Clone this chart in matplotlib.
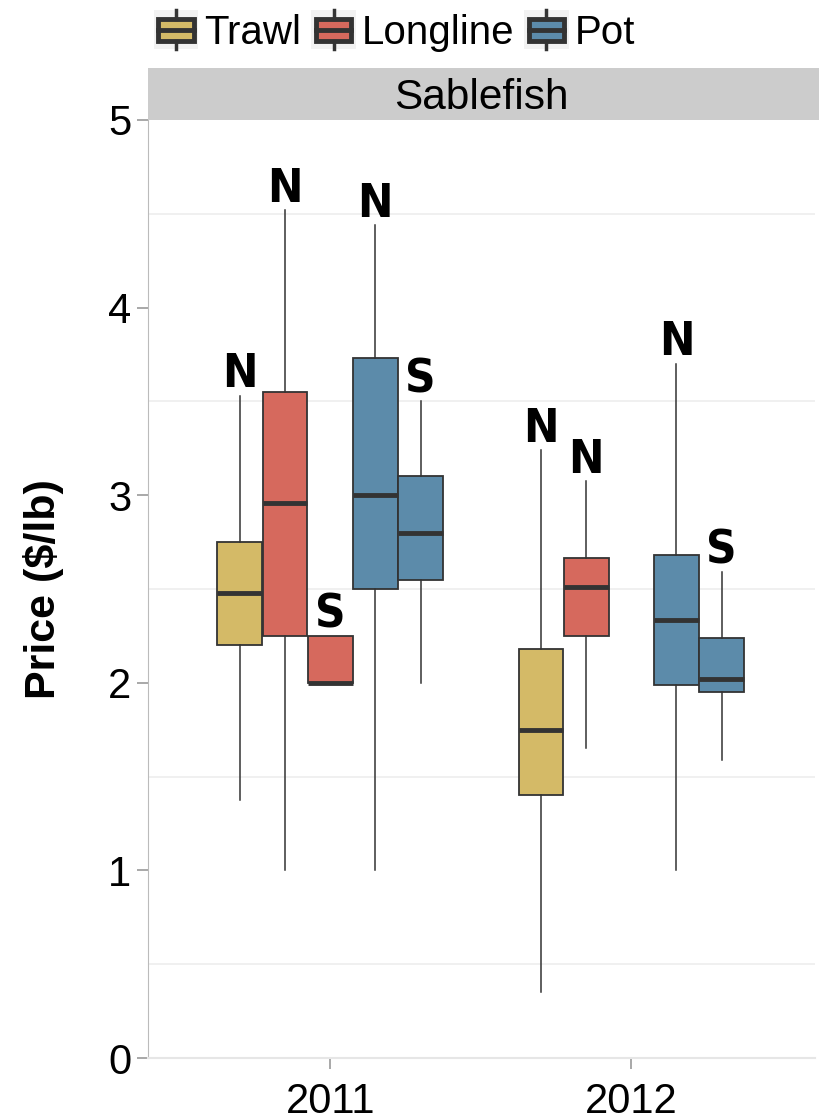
import matplotlib
matplotlib.use("Agg")
import matplotlib.pyplot as plt
from matplotlib.patches import Rectangle
from matplotlib.lines import Line2D
from matplotlib.legend_handler import HandlerBase

# Data (price in $/lb)
years = ["2011", "2012"]
gears = ["Trawl", "Longline", "Pot"]
gear_colors = {"Trawl": "#D4BA67", "Longline": "#D6695D", "Pot": "#5C8BAA"}

# one entry per box: year index, slot (-2..2), gear, region label
box_year = [0, 0, 0, 0, 0, 1, 1, 1, 1]
box_slot = [-2, -1, 0, 1, 2, -2, -1, 1, 2]
box_gear = ["Trawl", "Longline", "Longline", "Pot", "Pot",
            "Trawl", "Longline", "Pot", "Pot"]
box_label = ["N", "N", "S", "N", "S", "N", "N", "N", "S"]
whis_lo = [1.375, 1.00, 2.00, 1.00, 2.00, 0.35, 1.65, 1.00, 1.59]
q1 = [2.20, 2.25, 2.00, 2.50, 2.55, 1.40, 2.25, 1.99, 1.95]
med = [2.48, 2.96, 2.00, 3.00, 2.80, 1.75, 2.51, 2.335, 2.02]
q3 = [2.75, 3.55, 2.25, 3.73, 3.10, 2.18, 2.665, 2.68, 2.24]
whis_hi = [3.53, 4.52, 2.25, 4.44, 3.50, 3.24, 3.075, 3.70, 2.59]

box_w = 0.15

fig = plt.figure(figsize=(8.19, 11.18), dpi=100)
ax = fig.add_axes([148/819, 60/1118, 667/819, 938/1118])

for i in range(len(q1)):
    pos = box_year[i] + 1 + box_slot[i]*box_w
    st = dict(med=med[i], q1=q1[i], q3=q3[i], whislo=whis_lo[i], whishi=whis_hi[i], fliers=[])
    ax.bxp([st], positions=[pos], widths=box_w*0.99, patch_artist=True, showcaps=False,
           boxprops=dict(facecolor=gear_colors[box_gear[i]], edgecolor="#333333", linewidth=1.3),
           medianprops=dict(color="#333333", linewidth=3.5, solid_capstyle="butt"),
           whiskerprops=dict(color="#333333", linewidth=1.1), manage_ticks=False)
    ax.text(pos, whis_hi[i] + 0.045, box_label[i], ha="center", va="baseline",
            fontsize=34, fontweight="bold", fontstretch="condensed", family="DejaVu Sans")

ax.set_xlim(0.395, 2.61)
ax.set_ylim(0, 5)
ax.set_xticks([1, 2])
ax.set_xticklabels(years)
ax.set_yticks([0, 1, 2, 3, 4, 5])
ax.set_yticks([0.5, 1.5, 2.5, 3.5, 4.5], minor=True)
ax.yaxis.grid(True, which="minor", color="#eeeeee", linewidth=1.2)
ax.set_axisbelow(True)
for lab in ax.get_xticklabels() + ax.get_yticklabels():
    lab.set_family("Liberation Sans")
    lab.set_fontsize(30)
ax.tick_params(axis="both", which="major", length=8, width=1.2, color="#999999", pad=4)
ax.tick_params(axis="x", which="major", pad=9)
ax.tick_params(axis="y", which="minor", length=0)
ax.spines["top"].set_visible(False)
ax.spines["right"].set_visible(False)
ax.spines["left"].set_color("#bbbbbb")
ax.spines["bottom"].set_color("#e6e6e6")
ax.spines["bottom"].set_linewidth(1.5)
ax.set_ylabel("Price ($/lb)", fontsize=31, fontweight="bold", family="Liberation Sans", labelpad=32)

# facet strip
strip = fig.add_axes([148/819, 998/1118, 671/819, 52/1118])
strip.set_facecolor("#cccccc")
strip.set_xticks([])
strip.set_yticks([])
for s in strip.spines.values():
    s.set_visible(False)
strip.text(0.497, 0.42, "Sablefish", ha="center", va="center", fontsize=30.5, family="Liberation Sans")


class BoxKey(HandlerBase):
    def create_artists(self, legend, orig_handle, xdescent, ydescent, width, height, fontsize, trans):
        col = orig_handle.get_facecolor()
        bg = Rectangle((-xdescent, -ydescent), width, height, facecolor="#f2f2f2", edgecolor="none", transform=trans)
        bx = Rectangle((-xdescent + width*0.1, -ydescent + height*0.22), width*0.8, height*0.56,
                       facecolor=col, edgecolor="#333333", linewidth=3.5, transform=trans)
        cx = -xdescent + width/2
        md = Line2D([-xdescent + width*0.1, -xdescent + width*0.9], [-ydescent + height*0.5]*2,
                    color="#333333", linewidth=3.5, transform=trans)
        w1 = Line2D([cx, cx], [-ydescent, -ydescent + height*0.22], color="#333333", linewidth=2.5, transform=trans)
        w2 = Line2D([cx, cx], [-ydescent + height*0.78, -ydescent + height], color="#333333", linewidth=2.5, transform=trans)
        return [bg, bx, md, w1, w2]


handles = [Rectangle((0, 0), 1, 1, facecolor=gear_colors[g]) for g in gears]
leg = fig.legend(handles, gears, loc="center left", bbox_to_anchor=(154/819, 1 - 31/1118), ncol=3,
                 frameon=False, handler_map={Rectangle: BoxKey()}, handlelength=1.1, handleheight=1.1,
                 handletextpad=0.15, columnspacing=0.25, borderaxespad=0, borderpad=0,
                 prop={"family": "Liberation Sans", "size": 29})

fig.savefig("out.png", dpi=100)
